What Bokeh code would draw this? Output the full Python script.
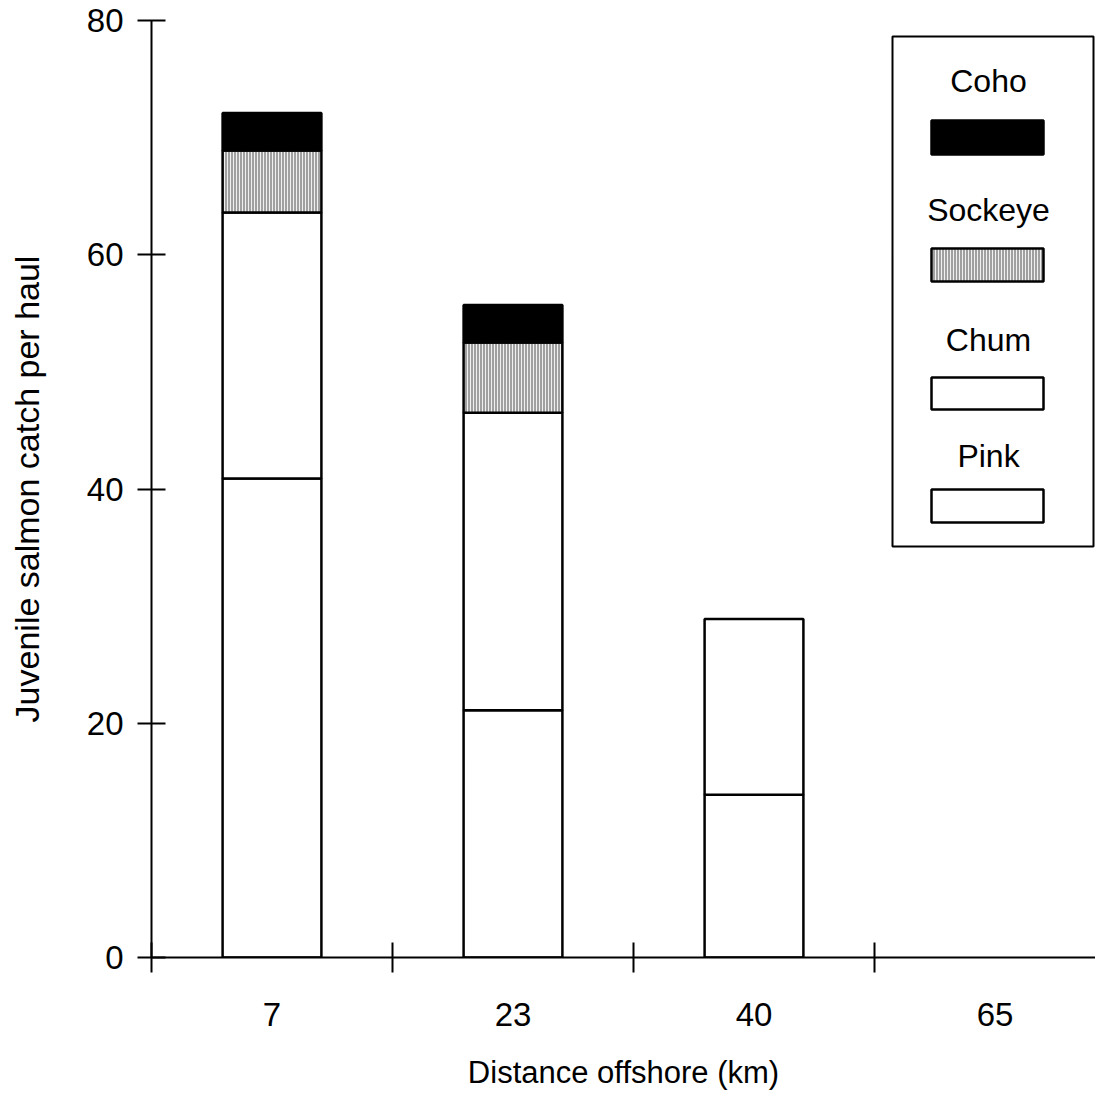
from bokeh.plotting import figure
from bokeh.models import ColumnDataSource, FixedTicker, Range1d, Label
from bokeh.embed import file_html
from bokeh.resources import INLINE

# ---- data ----
distances = ["7", "23", "40", "65"]
pink = [40.9, 21.1, 13.9, 0.0]
chum = [22.7, 25.4, 15.0, 0.0]
sockeye = [5.3, 6.0, 0.0, 0.0]
coho = [3.2, 3.2, 0.0, 0.0]
species = ["Pink", "Chum", "Sockeye", "Coho"]
y_ticks = [0, 20, 40, 60, 80]

FONT = "Liberation Sans"

W, H = 1095, 1094
LEFT, TOP, AXIS_Y = 151, 20, 957
CAT_PX = 241.0

p = figure(width=W, height=H, output_backend="svg", toolbar_location=None,
           x_range=Range1d(0, (W - LEFT) / CAT_PX), y_range=Range1d(0, 80),
           min_border_left=LEFT, min_border_right=0, min_border_top=TOP,
           min_border_bottom=H - AXIS_Y)
p.background_fill_color = "white"
p.border_fill_color = "white"
p.outline_line_color = None
p.xgrid.visible = False
p.ygrid.visible = False

styles = {
    "Pink": dict(fill_color="white"),
    "Chum": dict(fill_color="white"),
    "Sockeye": dict(fill_color="#a0a0a0", hatch_pattern="|", hatch_color="#f0f0f0",
                    hatch_scale=3, hatch_weight=1),
    "Coho": dict(fill_color="black"),
}

series = {"Pink": pink, "Chum": chum, "Sockeye": sockeye, "Coho": coho}
bottoms = [0.0] * len(distances)
for name in species:
    vals = series[name]
    xs, bs, ts = [], [], []
    for i, v in enumerate(vals):
        if v > 0:
            xs.append(i + 0.5)
            bs.append(bottoms[i])
            ts.append(bottoms[i] + v)
        bottoms[i] += v
    src = ColumnDataSource(dict(x=xs, bottom=bs, top=ts))
    p.vbar(x="x", bottom="bottom", top="top", width=0.41, source=src,
           line_color="black", line_width=2.5, **styles[name])

# ---- axes ----
xa = p.xaxis[0]
xa.ticker = FixedTicker(ticks=[i + 0.5 for i in range(len(distances))],
                        minor_ticks=list(range(len(distances))))
xa.major_label_overrides = {i + 0.5: d for i, d in enumerate(distances)}
xa.major_tick_in = 0
xa.major_tick_out = 0
xa.minor_tick_in = 15
xa.minor_tick_out = 15
xa.minor_tick_line_width = 2
xa.minor_tick_line_color = "black"
xa.axis_line_width = 2
xa.axis_line_color = "black"
xa.major_label_text_font = FONT
xa.major_label_text_font_size = "33px"
xa.major_label_text_color = "black"
xa.major_label_standoff = 30
xa.axis_label = "Distance offshore (km)"
xa.axis_label_text_font = FONT
xa.axis_label_text_font_size = "31px"
xa.axis_label_text_font_style = "normal"
xa.axis_label_text_color = "black"
xa.axis_label_standoff = 26

ya = p.yaxis[0]
ya.ticker = FixedTicker(ticks=y_ticks, minor_ticks=[])
ya.major_tick_in = 14
ya.major_tick_out = 14
ya.major_tick_line_width = 2
ya.major_tick_line_color = "black"
ya.axis_line_width = 2
ya.axis_line_color = "black"
ya.major_label_text_font = FONT
ya.major_label_text_font_size = "33px"
ya.major_label_text_color = "black"
ya.major_label_standoff = 14
ya.axis_label = "Juvenile salmon catch per haul"
ya.axis_label_text_font = FONT
ya.axis_label_text_font_size = "34px"
ya.axis_label_text_font_style = "normal"
ya.axis_label_text_color = "black"
ya.axis_label_standoff = 38

# ---- legend (drawn manually: label above swatch) ----
def X(px):
    return (px - LEFT) / CAT_PX

def Y(py):
    return (AXIS_Y - py) * 80.0 / (AXIS_Y - TOP)

LG_DX = -8  # shift legend so it fits inside the canvas
p.quad(left=X(900 + LG_DX), right=X(1101 + LG_DX), top=Y(36), bottom=Y(546),
       fill_color="white", line_color="black", line_width=2)

legend_layout = [  # (name, label baseline px, swatch top px, swatch bottom px)
    ("Coho", 80, 120, 154),
    ("Sockeye", 209, 248, 281),
    ("Chum", 339, 377, 409),
    ("Pink", 455, 489, 522),
]
for name, base, st, sb in legend_layout:
    p.quad(left=X(939 + LG_DX), right=X(1051 + LG_DX), top=Y(st), bottom=Y(sb),
           line_color="black", line_width=2.5, **styles[name])
    p.add_layout(Label(x=X(996 + LG_DX), y=Y(base), text=name, text_align="center",
                       text_baseline="alphabetic", text_font=FONT,
                       text_font_size="32px", text_color="black"))

open("out.html", "w").write(file_html(p, INLINE))
